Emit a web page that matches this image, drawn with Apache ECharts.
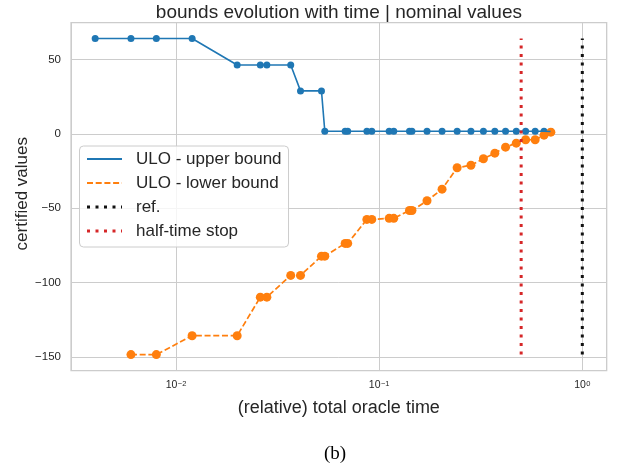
<!DOCTYPE html>
<html>
<head>
<meta charset="utf-8">
<script src="https://cdn.jsdelivr.net/npm/echarts@6/dist/echarts.min.js"></script>
<style>
html,body{margin:0;padding:0;background:#fff;}
#chart{width:622px;height:470px;}
</style>
</head>
<body>
<div id="chart"></div>
<script>
// ---- data ----
const upperX = [0.004, 0.006, 0.008, 0.012, 0.020, 0.026, 0.028, 0.0367, 0.041, 0.052, 0.054, 0.068, 0.070, 0.087, 0.092, 0.112, 0.118, 0.141, 0.145, 0.172, 0.204, 0.242, 0.283, 0.326, 0.371, 0.419, 0.473, 0.526, 0.586, 0.648, 0.70];
const upperY = [64, 64, 64, 64, 46.2, 46.2, 46.2, 46.2, 28.8, 28.8, 1.7, 1.7, 1.7, 1.7, 1.7, 1.7, 1.7, 1.7, 1.7, 1.7, 1.7, 1.7, 1.7, 1.7, 1.7, 1.7, 1.7, 1.7, 1.7, 1.7, 1.5];
const lowerX = [0.006, 0.008, 0.012, 0.020, 0.026, 0.028, 0.0367, 0.041, 0.052, 0.054, 0.068, 0.070, 0.087, 0.092, 0.112, 0.118, 0.141, 0.145, 0.172, 0.204, 0.242, 0.283, 0.326, 0.371, 0.419, 0.473, 0.526, 0.586, 0.648, 0.70];
const lowerY = [-148.3, -148.3, -135.6, -135.6, -109.7, -109.7, -95.1, -95.1, -82.2, -82.2, -73.6, -73.6, -57.5, -57.5, -56.8, -56.8, -51.5, -51.5, -45.0, -37.2, -22.8, -21.1, -16.8, -13.0, -9.0, -6.3, -4.0, -4.0, -0.9, 1.1];
const refX = [1, 1];
const refY = [-148.3, 64];
const halfX = [0.5, 0.5];
const halfY = [-148.3, 64];
const seriesNames = ['ULO - upper bound', 'ULO - lower bound', 'ref.', 'half-time stop'];
const titleText = 'bounds evolution with time | nominal values';
const xLabel = '(relative) total oracle time';
const yLabel = 'certified values';
const caption = '(b)';

const zip = (xs, ys) => xs.map((x, i) => [x, ys[i]]);
const FONT = 'Liberation Sans, Arial, sans-serif';
const TXT = '#262626';
const C_BLUE = '#1f77b4', C_ORANGE = '#ff7f0e', C_RED = '#d62728', C_BLACK = '#111111';

const chart = echarts.init(document.getElementById('chart'), null, {renderer: 'canvas'});
chart.setOption({
  animation: false,
  backgroundColor: '#ffffff',
  title: [
    {text: titleText, left: 338.9, top: 3, textAlign: 'center', padding: 0,
     textStyle: {fontFamily: FONT, fontSize: 19, fontWeight: 'normal', color: TXT}},
    {text: caption, left: 335, top: 445, textAlign: 'center', padding: 0,
     textStyle: {fontFamily: 'Liberation Serif, serif', fontSize: 19, fontWeight: 'normal', color: '#000'}}
  ],
  grid: {left: 71, top: 22.7, right: 15.3, bottom: 99.3, containLabel: false, outerBoundsMode: 'none',
         show: true, borderColor: '#cccccc', borderWidth: 1.25, backgroundColor: '#ffffff'},
  legend: {
    orient: 'vertical', left: 79.5, top: 146,
    data: [
      {name: seriesNames[0], lineStyle: {width: 2}},
      {name: seriesNames[1], lineStyle: {width: 2}},
      {name: seriesNames[2], lineStyle: {width: 3}},
      {name: seriesNames[3], lineStyle: {width: 3}}
    ],
    itemWidth: 35, itemHeight: 14, itemGap: 4,
    padding: [3, 7, 6, 6],
    backgroundColor: 'rgba(255,255,255,0.8)', borderColor: '#cccccc', borderWidth: 1, borderRadius: 4,
    itemStyle: {color: 'rgba(0,0,0,0)', borderColor: 'rgba(0,0,0,0)', borderWidth: 0},
    textStyle: {fontFamily: FONT, fontSize: 17, color: TXT, lineHeight: 20, padding: [0, 0, 0, 9]}
  },
  xAxis: {
    type: 'log', logBase: 10, min: 0.003041, max: 1.3185,
    name: xLabel, nameLocation: 'middle', nameGap: 28, nameMoveOverlap: false,
    nameTextStyle: {fontFamily: FONT, fontSize: 18, color: TXT},
    axisLine: {show: false}, axisTick: {show: false},
    splitLine: {show: true, lineStyle: {color: '#cccccc', width: 1}},
    minorSplitLine: {show: false},
    axisLabel: {
      margin: 9, showMinLabel: false, showMaxLabel: false,
      formatter: function (v) {
        const e = Math.round(Math.log10(v));
        return '{b|10}{s|' + (e < 0 ? '\u2212' + (-e) : e) + '}';
      },
      rich: {
        b: {fontFamily: FONT, fontSize: 10.5, color: TXT, lineHeight: 11, verticalAlign: 'bottom'},
        s: {fontFamily: FONT, fontSize: 7.5, color: TXT, lineHeight: 8, verticalAlign: 'top', padding: [0, 0, 7, 0.5]}
      }
    }
  },
  yAxis: {
    type: 'value', min: -159.1, max: 74.6, splitNumber: 5,
    name: yLabel, nameLocation: 'middle', nameGap: 40, nameRotate: 90, nameMoveOverlap: false,
    nameTextStyle: {fontFamily: FONT, fontSize: 17, color: TXT, padding: [0, 0, 0, 6]},
    axisLine: {show: false}, axisTick: {show: false},
    splitLine: {show: true, lineStyle: {color: '#cccccc', width: 1}},
    axisLabel: {
      margin: 10, showMinLabel: false, showMaxLabel: false,
      fontFamily: FONT, fontSize: 11.5, color: TXT,
      formatter: function (v) { return v < 0 ? '\u2212' + (-v) : String(v); }
    }
  },
  series: [
    {name: seriesNames[0], type: 'line', data: zip(upperX, upperY), symbol: 'none',
     lineStyle: {color: C_BLUE, width: 1.6}, itemStyle: {color: C_BLUE}},
    {name: 'upper-markers', type: 'scatter', data: zip(upperX, upperY), symbol: 'circle', symbolSize: 7,
     itemStyle: {color: C_BLUE, opacity: 1}},
    {name: seriesNames[1], type: 'line', data: zip(lowerX, lowerY), symbol: 'none',
     lineStyle: {color: C_ORANGE, width: 1.7, type: [6, 2.7]}, itemStyle: {color: C_ORANGE}},
    {name: 'lower-markers', type: 'scatter', data: zip(lowerX, lowerY), symbol: 'circle', symbolSize: 9,
     itemStyle: {color: C_ORANGE, opacity: 1}},
    {name: seriesNames[2], type: 'line', data: zip(refX, refY), symbol: 'none',
     lineStyle: {color: C_BLACK, width: 3, type: [3, 5.5], cap: 'butt'}, itemStyle: {color: C_BLACK}},
    {name: seriesNames[3], type: 'line', data: zip(halfX, halfY), symbol: 'none',
     lineStyle: {color: C_RED, width: 3, type: [3, 5.5], cap: 'butt'}, itemStyle: {color: C_RED}}
  ]
});
</script>
</body>
</html>
